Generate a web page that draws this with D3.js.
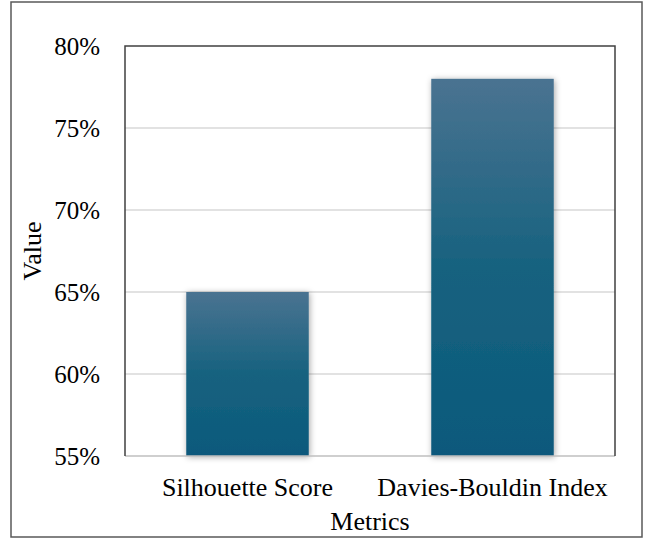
<!DOCTYPE html>
<html>
<head>
<meta charset="utf-8">
<script src="https://cdn.jsdelivr.net/npm/d3@7"></script>
<style>
  html, body { margin: 0; padding: 0; background: #fff; }
  svg { display: block; }
  svg text { font-family: "Times New Roman", "Liberation Serif", "DejaVu Serif", serif !important; fill: #000; }
</style>
</head>
<body>
<svg id="chart" width="645" height="539"></svg>
<script>
const categories = ["Silhouette Score", "Davies-Bouldin Index"];
const values = [0.65, 0.78];
const yTicks = [0.55, 0.60, 0.65, 0.70, 0.75, 0.80];
const yDomain = [0.55, 0.80];
const xTitle = "Metrics";
const yTitle = "Value";

const FONT = '"Times New Roman", "Liberation Serif", "DejaVu Serif", serif';
const svg = d3.select("#chart");
const W = 645, H = 539;
const m = { left: 125, right: 30, top: 46, bottom: 83 };
const pw = W - m.left - m.right, ph = H - m.top - m.bottom;

// outer border
svg.append("rect").attr("x", 11).attr("y", 2).attr("width", 631).attr("height", 535)
  .attr("fill", "#fff").attr("stroke", "#595959").attr("stroke-width", 1.5);

const defs = svg.append("defs");
const grad = defs.append("linearGradient").attr("id", "barGrad")
  .attr("x1", 0).attr("y1", 0).attr("x2", 0).attr("y2", 1);
grad.append("stop").attr("offset", "0%").attr("stop-color", "#4a7391");
grad.append("stop").attr("offset", "50%").attr("stop-color", "#17627f");
grad.append("stop").attr("offset", "100%").attr("stop-color", "#0a597c");
const f = defs.append("filter").attr("id", "shadow").attr("x", "-20%").attr("y", "-20%")
  .attr("width", "140%").attr("height", "140%");
f.append("feDropShadow").attr("dx", 1).attr("dy", 1).attr("stdDeviation", 3)
  .attr("flood-color", "#000").attr("flood-opacity", 0.35);

const g = svg.append("g").attr("transform", `translate(${m.left},${m.top})`);

const x = d3.scaleBand().domain(categories).range([0, pw]).paddingInner(0.5).paddingOuter(0.25);
const y = d3.scaleLinear().domain(yDomain).range([ph, 0]);

// gridlines
g.append("g").selectAll("line").data(yTicks.slice(1, -1)).join("line")
  .attr("x1", 0).attr("x2", pw).attr("y1", d => y(d)).attr("y2", d => y(d))
  .attr("stroke", "#d9d9d9").attr("stroke-width", 1.5);

// bars
g.append("g").selectAll("rect").data(values).join("rect")
  .attr("x", (d, i) => x(categories[i]))
  .attr("width", x.bandwidth())
  .attr("y", d => y(d))
  .attr("height", d => ph - y(d))
  .attr("fill", "url(#barGrad)")
  .attr("filter", "url(#shadow)");

// bottom axis line
g.append("line").attr("x1", 0).attr("x2", pw).attr("y1", ph).attr("y2", ph)
  .attr("stroke", "#bfbfbf").attr("stroke-width", 1.5);

// frame top/left/right
g.append("path").attr("d", `M0,${ph}V0H${pw}V${ph}`)
  .attr("fill", "none").attr("stroke", "#404040").attr("stroke-width", 1.5);

// y axis labels
const yAxis = d3.axisLeft(y).tickValues(yTicks).tickFormat(d3.format(".0%")).tickSize(0).tickPadding(25);
const ya = g.append("g").call(yAxis).attr("font-family", null);
ya.select(".domain").remove();
ya.selectAll("text").style("font-family", FONT).style("font-size", "25px").attr("fill", "#000");

// x axis labels
const xAxis = d3.axisBottom(x).tickSize(0).tickPadding(22);
const xa = g.append("g").attr("transform", `translate(0,${ph})`).call(xAxis).attr("font-family", null);
xa.select(".domain").remove();
xa.selectAll("text").style("font-family", FONT).style("font-size", "26px").attr("fill", "#000");

// titles
svg.append("text").attr("x", m.left + pw / 2).attr("y", 530).attr("text-anchor", "middle")
  .style("font-family", FONT).style("font-size", "26px").text(xTitle);
svg.append("text").attr("transform", `translate(41,${m.top + ph / 2}) rotate(-90)`)
  .attr("text-anchor", "middle").style("font-family", FONT).style("font-size", "26px").text(yTitle);
</script>
</body>
</html>
